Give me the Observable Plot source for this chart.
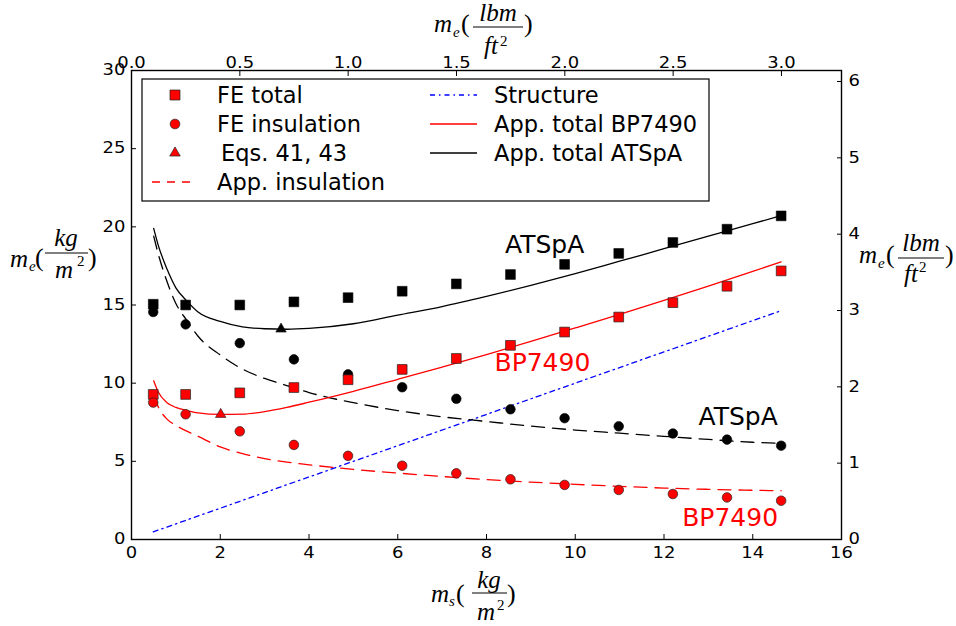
<!DOCTYPE html>
<html>
<head>
<meta charset="utf-8">
<script src="https://cdn.jsdelivr.net/npm/d3@7"></script>
<script src="https://cdn.jsdelivr.net/npm/@observablehq/plot@0.6"></script>
<style>
  body { margin: 0; background: #fff; }
  #chart { position: relative; width: 956px; height: 626px; }
</style>
</head>
<body>
<div id="chart"></div>
<script>
// 1 kg/m² expressed in lbm/ft²
const LBM_PER_KG = 0.204816;

// Tick values
const bottomTicks = [0, 2, 4, 6, 8, 10, 12, 14, 16];
const leftTicks = [0, 5, 10, 15, 20, 25, 30];
const topTicks = [0.0, 0.5, 1.0, 1.5, 2.0, 2.5, 3.0];      // lbm/ft²
const rightTicks = [0, 1, 2, 3, 4, 5, 6];                   // lbm/ft²

// Finite-element results, structural mass m_s in kg/m²
const feMs = [0.49, 1.22, 2.44, 3.66, 4.88, 6.10, 7.32, 8.54, 9.76, 10.98, 12.20, 13.42, 14.64];
const feTotalATSpA = [15.05, 15.0, 15.0, 15.2, 15.47, 15.88, 16.35, 16.95, 17.6, 18.3, 19.0, 19.85, 20.7];
const feInsATSpA = [14.55, 13.76, 12.56, 11.52, 10.56, 9.74, 9.0, 8.33, 7.76, 7.24, 6.78, 6.39, 6.0];
const feTotalBP = [9.28, 9.28, 9.38, 9.72, 10.22, 10.88, 11.58, 12.42, 13.27, 14.23, 15.15, 16.2, 17.18];
const feInsBP = [8.76, 8.01, 6.92, 6.05, 5.35, 4.72, 4.23, 3.85, 3.49, 3.17, 2.91, 2.69, 2.48];

// Optimum from Eqs. 41, 43
const eqMs = [2.01, 3.37];
const eqMe = [8.0, 13.46];
const eqMaterial = ["BP7490", "ATSpA"];

// Approximate solutions
const appMs = [0.5, 0.6, 0.8, 1.0, 1.25, 1.5, 2, 2.5, 3, 3.5, 4, 5, 6, 7, 8, 9, 10, 11, 12, 13, 14, 14.64];
const appInsATSpA = [19.4, 18.3, 16.5, 15.1, 14.0, 13.0, 11.8, 10.9, 10.3, 9.85, 9.4, 8.75, 8.25, 7.85, 7.55, 7.25, 7.0, 6.8, 6.6, 6.4, 6.22, 6.15];
const appTotalATSpA = [19.9, 18.85, 17.3, 16.1, 15.25, 14.55, 13.95, 13.6, 13.48, 13.45, 13.5, 13.8, 14.35, 14.9, 15.55, 16.25, 17.0, 17.8, 18.6, 19.4, 20.2, 20.72];
const appInsBP = [9.2, 8.5, 7.7, 7.3, 6.93, 6.6, 5.92, 5.5, 5.18, 4.95, 4.78, 4.48, 4.25, 4.03, 3.83, 3.67, 3.53, 3.4, 3.29, 3.21, 3.15, 3.12];
const appTotalBP = [10.15, 9.45, 8.75, 8.45, 8.25, 8.1, 8.0, 8.02, 8.18, 8.45, 8.78, 9.48, 10.25, 11.03, 11.83, 12.67, 13.53, 14.4, 15.29, 16.21, 17.15, 17.76];

// Structure mass line
const structMs = [0.49, 14.6];
const structMe = [0.49, 14.6];

// Curve annotations
const noteText = ["ATSpA", "BP7490", "ATSpA", "BP7490"];
const noteMs = [9.31, 9.26, 13.67, 13.49];
const noteMe = [18.85, 11.27, 7.83, 1.39];
const noteColor = ["black", "red", "black", "red"];

const pts = (xs, ys) => xs.map((x, i) => ({ms: x, me: ys[i]}));

const lineOpts = {x: "ms", y: "me", curve: "monotone-x", strokeWidth: 1.3};
const dashed = "13,8";

const chart = Plot.plot({
  width: 956,
  height: 626,
  marginLeft: 131,
  marginRight: 115,
  marginTop: 70,
  marginBottom: 87,
  x: {domain: [0, 16]},
  y: {domain: [0, 30]},
  style: {fontFamily: "DejaVu Sans", fontSize: "15px", background: "white", overflow: "visible"},
  marks: [
    Plot.axisX({anchor: "bottom", ticks: bottomTicks, tickFormat: d => d, tickSize: -5, tickPadding: 13, label: null}),
    Plot.axisX({anchor: "top", ticks: topTicks.map(v => v / LBM_PER_KG), tickFormat: d => (d * LBM_PER_KG).toFixed(1), tickSize: -5, tickPadding: 7.5, label: null}),
    Plot.axisY({anchor: "left", ticks: leftTicks, tickFormat: d => d, tickSize: -5, tickPadding: 11, label: null}),
    Plot.axisY({anchor: "right", ticks: rightTicks.map(v => v / LBM_PER_KG), tickFormat: d => Math.round(d * LBM_PER_KG), tickSize: -5, tickPadding: 12, label: null}),

    Plot.line(pts(structMs, structMe), {...lineOpts, curve: "linear", stroke: "blue", strokeDasharray: "5,4,1.5,4"}),
    Plot.line(pts(appMs, appInsATSpA), {...lineOpts, stroke: "black", strokeDasharray: dashed}),
    Plot.line(pts(appMs, appInsBP), {...lineOpts, stroke: "red", strokeDasharray: dashed}),
    Plot.line(pts(appMs, appTotalATSpA), {...lineOpts, stroke: "black"}),
    Plot.line(pts(appMs, appTotalBP), {...lineOpts, stroke: "red"}),

    Plot.dot(pts(feMs, feInsATSpA), {x: "ms", y: "me", symbol: "circle", r: 4.8, fill: "black", stroke: "black", strokeWidth: 0.6}),
    Plot.dot(pts(feMs, feTotalATSpA), {x: "ms", y: "me", symbol: "square", r: 5.5, fill: "black", stroke: "black", strokeWidth: 0.6}),
    Plot.dot(pts(feMs, feTotalBP), {x: "ms", y: "me", symbol: "square", r: 5.5, fill: "red", stroke: "#222", strokeWidth: 0.7}),
    Plot.dot(pts(feMs, feInsBP), {x: "ms", y: "me", symbol: "circle", r: 4.8, fill: "red", stroke: "#222", strokeWidth: 0.7}),
    Plot.dot(eqMs.map((x, i) => ({ms: x, me: eqMe[i], mat: eqMaterial[i]})), {
      x: "ms", y: "me", symbol: "triangle", r: 3.9,
      fill: d => d.mat === "BP7490" ? "red" : "black", stroke: "#222", strokeWidth: 0.6
    }),

    Plot.text(noteText.map((t, i) => ({t, ms: noteMs[i], me: noteMe[i], c: noteColor[i]})), {
      x: "ms", y: "me", text: "t", fill: "c", fontSize: 25, fontFamily: "DejaVu Sans", textAnchor: "middle"
    }),

    Plot.frame({stroke: "black", strokeWidth: 1.4})
  ]
});

document.getElementById("chart").appendChild(chart);

// Tick labels are drawn slightly wide
chart.querySelectorAll('g[aria-label$="tick label"] text').forEach(t => {
  const tr = t.getAttribute("transform");
  if (tr && tr.includes("translate")) t.setAttribute("transform", tr + " scale(1.2,1)");
});

const svg = d3.select(chart);

// Legend
const lg = svg.append("g").attr("font-family", "DejaVu Sans").attr("font-size", 22.5)
  .attr("fill", "black").attr("text-anchor", "start");
lg.append("rect").attr("x", 142).attr("y", 79).attr("width", 567).attr("height", 122)
  .attr("fill", "white").attr("stroke", "black").attr("stroke-width", 1.2);

const legendMarkers = [
  {label: "FE total", type: d3.symbolSquare, size: 100, row: 0, tx: 217},
  {label: "FE insulation", type: d3.symbolCircle, size: 74, row: 1, tx: 217},
  {label: "Eqs. 41, 43", type: d3.symbolTriangle, size: 48, row: 2, tx: 221}
];
const rowY = [95, 124, 153, 182];
legendMarkers.forEach(m => {
  lg.append("path").attr("d", d3.symbol(m.type, m.size)())
    .attr("transform", `translate(175,${rowY[m.row]})`)
    .attr("fill", "red").attr("stroke", "#222").attr("stroke-width", 0.7);
  lg.append("text").attr("x", m.tx).attr("y", rowY[m.row]).attr("dy", "0.36em")
    .attr("text-anchor", "start").text(m.label);
});
const legendLines = [
  {label: "App. insulation", stroke: "red", dash: "8,7", x1: 152, x2: 197, tx: 217, row: 3},
  {label: "Structure", stroke: "blue", dash: "5,4,1.5,4", x1: 430, x2: 477, tx: 494, row: 0},
  {label: "App. total BP7490", stroke: "red", dash: null, x1: 430, x2: 477, tx: 494, row: 1},
  {label: "App. total ATSpA", stroke: "black", dash: null, x1: 430, x2: 477, tx: 494, row: 2}
];
legendLines.forEach(l => {
  lg.append("line").attr("x1", l.x1).attr("x2", l.x2).attr("y1", rowY[l.row]).attr("y2", rowY[l.row])
    .attr("stroke", l.stroke).attr("stroke-width", 1.3).attr("stroke-dasharray", l.dash);
  lg.append("text").attr("x", l.tx).attr("y", rowY[l.row]).attr("dy", "0.36em")
    .attr("text-anchor", "start").text(l.label);
});

// Axis titles with stacked fractions
function mathTitle(parts, bar) {
  const g = svg.append("g").attr("font-family", "Liberation Serif").attr("fill", "black");
  parts.forEach(p => {
    g.append("text").attr("x", p.x).attr("y", p.y).attr("font-size", p.s)
      .attr("font-style", p.i ? "italic" : "normal")
      .attr("text-anchor", p.a || "start").text(p.t);
  });
  g.append("line").attr("x1", bar[0]).attr("x2", bar[1]).attr("y1", bar[2]).attr("y2", bar[2])
    .attr("stroke", "black").attr("stroke-width", 1);
}

// left: m_e (kg / m²)
mathTitle([
  {t: "m", x: 10, y: 267, s: 25, i: true},
  {t: "e", x: 29, y: 271, s: 15, i: true},
  {t: "(", x: 35, y: 266, s: 26},
  {t: "kg", x: 66, y: 246, s: 25, i: true, a: "middle"},
  {t: "m", x: 64, y: 278, s: 25, i: true, a: "middle"},
  {t: "2", x: 77, y: 266, s: 15},
  {t: ")", x: 88, y: 266, s: 26}
], [45, 88, 253]);

// right: m_e (lbm / ft²)
mathTitle([
  {t: "m", x: 859, y: 263, s: 25, i: true},
  {t: "e", x: 878, y: 268, s: 15, i: true},
  {t: "(", x: 886, y: 263, s: 26},
  {t: "lbm", x: 921, y: 251, s: 25, i: true, a: "middle"},
  {t: "ft", x: 911, y: 282, s: 25, i: true, a: "middle"},
  {t: "2", x: 919, y: 272, s: 15},
  {t: ")", x: 945, y: 263, s: 26}
], [898, 944, 258]);

// top: m_e (lbm / ft²)
mathTitle([
  {t: "m", x: 434, y: 32, s: 25, i: true},
  {t: "e", x: 453, y: 37, s: 15, i: true},
  {t: "(", x: 461, y: 32, s: 26},
  {t: "lbm", x: 498, y: 21, s: 25, i: true, a: "middle"},
  {t: "ft", x: 491, y: 54, s: 25, i: true, a: "middle"},
  {t: "2", x: 500, y: 46, s: 15},
  {t: ")", x: 524, y: 32, s: 26}
], [473, 523, 27]);

// bottom: m_s (kg / m²)
mathTitle([
  {t: "m", x: 431, y: 602, s: 25, i: true},
  {t: "s", x: 449, y: 606, s: 15, i: true},
  {t: "(", x: 456, y: 602, s: 26},
  {t: "kg", x: 489, y: 588, s: 25, i: true, a: "middle"},
  {t: "m", x: 486, y: 620, s: 25, i: true, a: "middle"},
  {t: "2", x: 497, y: 610, s: 15},
  {t: ")", x: 507, y: 602, s: 26}
], [472, 507, 593]);
</script>
</body>
</html>
